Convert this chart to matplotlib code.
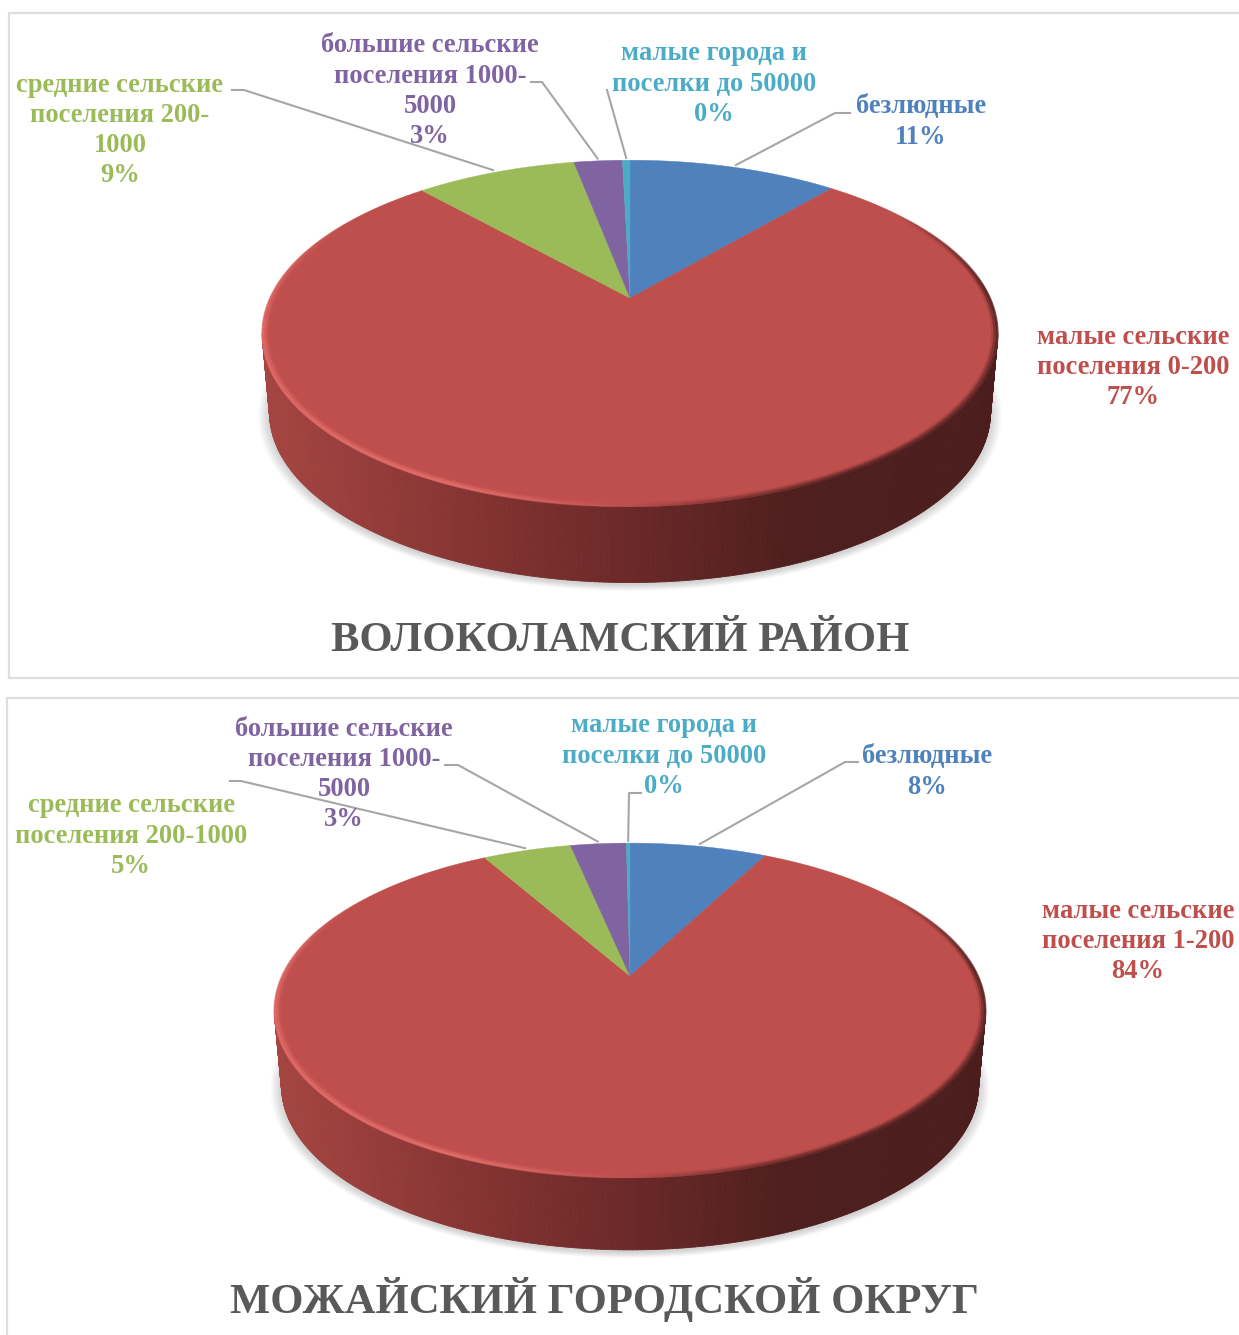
import numpy as np
import matplotlib
matplotlib.use('Agg')
import matplotlib.pyplot as plt
from matplotlib.collections import LineCollection, PolyCollection
from matplotlib.colors import LinearSegmentedColormap, to_rgb
from matplotlib.patches import Polygon

plt.rcParams['font.family'] = ['Liberation Serif', 'DejaVu Serif']

# Порядок секторов: по часовой стрелке от 12 часов
colors = ['#4F81BD', '#BE4F4C', '#9BBB59', '#8064A2', '#4BACC6']

volok_title = 'ВОЛОКОЛАМСКИЙ РАЙОН'
volok_values = [11.2, 77.2, 8.6, 2.6, 0.4]
volok_shown = ['11%', '77%', '9%', '3%', '0%']
volok_names = [
    ['безлюдные'],
    ['малые сельские', 'поселения 0-200'],
    ['средние сельские', 'поселения 200-', '1000'],
    ['большие сельские', 'поселения 1000-', '5000'],
    ['малые города и', 'поселки до 50000'],
]

mozh_title = 'МОЖАЙСКИЙ ГОРОДСКОЙ ОКРУГ'
mozh_values = [7.6, 84.2, 4.9, 3.1, 0.2]
mozh_shown = ['8%', '84%', '5%', '3%', '0%']
mozh_names = [
    ['безлюдные'],
    ['малые сельские', 'поселения 1-200'],
    ['средние сельские', 'поселения 200-1000'],
    ['большие сельские', 'поселения 1000-', '5000'],
    ['малые города и', 'поселки до 50000'],
]

side_cmap = LinearSegmentedColormap.from_list('side', [
    (0.0, '#A54541'), (0.33, '#7F3130'), (0.5, '#6B2928'),
    (0.72, '#4E1F1E'), (1.0, '#4B1E1D')])


def project(theta, cx, cy, rx, ry, k, r=1.0):
    """Окружность диска в перспективе, theta от верха по часовой."""
    u = r * np.sin(theta)
    v = r * np.cos(theta)
    d = 1 + k * v
    return cx + rx * u / d, cy - ry * v / d


def draw_pie(ax, values, geom):
    cx, cy, rx, ry, k, depth, shrink = geom
    fr = np.array(values) / np.sum(values)
    edges = np.concatenate([[0], np.cumsum(fr)]) * 2 * np.pi

    # нижняя кромка и тень под ней
    t = np.linspace(0, 2 * np.pi, 400)
    for i in range(12):
        s = shrink + 0.0028 * i
        xb, yb = project(t, cx, cy, rx * s, ry * s, k)
        ax.fill(xb, yb + depth + 2, color='#707070', alpha=0.028, lw=0, zorder=1)

    # боковая стенка из вертикальных полосок
    t0 = np.arccos(-k)
    t_side = np.linspace(t0, 2 * np.pi - t0, 260)
    xt, yt = project(t_side, cx, cy, rx, ry, k)
    xb, yb = project(t_side, cx, cy, rx * shrink, ry * shrink, k)
    yb = yb + depth
    quads = [[(xt[i], yt[i]), (xt[i + 1], yt[i + 1]), (xb[i + 1], yb[i + 1]), (xb[i], yb[i])]
             for i in range(len(t_side) - 1)]
    xm = (xt[:-1] + xt[1:]) / 2
    face = side_cmap((xm - xm.min()) / (xm.max() - xm.min()))
    ax.add_collection(PolyCollection(quads, facecolors=face, edgecolors=face, linewidths=0.6, zorder=2))

    # верхняя грань
    for i, c in enumerate(colors):
        a = np.linspace(edges[i], edges[i + 1], 160)
        x, y = project(a, cx, cy, rx, ry, k)
        ax.add_patch(Polygon(np.column_stack([np.r_[cx, x], np.r_[cy, y]]), closed=True,
                             facecolor=c, edgecolor=c, lw=0.3, zorder=3))

    # фаска по краю диска: светлая слева снизу, темная справа
    t = np.linspace(0, 2 * np.pi, 500)
    light = np.array(to_rgb('#E8706D'))
    dark = np.array(to_rgb('#4B1E1D'))
    for r, lw, amp in [(0.9985, 2.0, 0.75), (0.993, 2.5, 0.5), (0.987, 2.5, 0.18)]:
        x, y = project(t, cx, cy, rx, ry, k, r=r)
        pts = np.column_stack([x, y])
        segs = np.stack([pts[:-1], pts[1:]], axis=1)
        tm = (t[:-1] + t[1:]) / 2
        u, v = np.sin(tm), np.cos(tm)
        hl = np.clip(-u * 2.5, 0, 1) * np.clip((0.5 - v) * 1.5, 0, 1)
        dk = np.clip(u * 2, 0, 1) * np.clip((0.55 - v) * 2, 0, 1)
        rgba = np.zeros((len(segs), 4))
        rgba[:, :3] = np.where((hl >= dk)[:, None], light, dark)
        rgba[:, 3] = np.maximum(hl, dk) * amp
        ax.add_collection(LineCollection(segs, colors=rgba, linewidths=lw, zorder=4))

    return edges


def draw_leader(ax, edges, i, geom, elbow):
    cx, cy, rx, ry, k = geom[:5]
    mid = (edges[i] + edges[i + 1]) / 2
    ex, ey = project(mid, cx, cy, rx, ry, k, r=1.02)
    ax.plot([p[0] for p in elbow] + [ex], [p[1] for p in elbow] + [ey],
            color='#A6A6A6', lw=1.5, solid_joinstyle='round', zorder=6)


def draw_label(ax, lines, x, y0, c, step=30.2):
    for n, line in enumerate(lines):
        ax.text(x, y0 + 2 + n * step, line, color=c, fontsize=19.1, fontweight='bold',
                ha='center', va='center', zorder=7)


fig = plt.figure(figsize=(12.39, 13.35), dpi=100)
ax = fig.add_axes([0, 0, 1, 1])
ax.set_xlim(0, 1239)
ax.set_ylim(1335, 0)
ax.axis('off')

# рамки диаграмм
ax.plot([1240, 9, 9, 1240], [13, 13, 678, 678], color='#DEDEDE', lw=1.6, zorder=0)
ax.plot([7, 7, 1240], [1336, 698, 698], color='#DEDEDE', lw=1.6, zorder=0)

# Волоколамский район
geom1 = (630, 298, 360, 166, 0.2047, 80, 0.98)
edges1 = draw_pie(ax, volok_values, geom1)
leaders1 = [
    [(850, 113), (835, 113)],
    None,
    [(232, 90), (244, 90)],
    [(531, 82), (542, 82)],
    [(607, 90)],
]
label_pos1 = [(921, 105), (1133, 335), (120, 83), (430, 44), (714, 52)]
for i in range(5):
    if leaders1[i]:
        draw_leader(ax, edges1, i, geom1, leaders1[i])
    draw_label(ax, volok_names[i] + [volok_shown[i]], label_pos1[i][0], label_pos1[i][1], colors[i])
ax.text(620, 641, volok_title, color='#595959', fontsize=30.7, fontweight='bold',
        ha='center', va='center', zorder=7)

# Можайский городской округ
geom2 = (630, 976, 348, 160.3, 0.2061, 76, 0.98)
edges2 = draw_pie(ax, mozh_values, geom2)
leaders2 = [
    [(858, 762), (845, 762)],
    None,
    [(230, 781), (241, 781)],
    [(445, 765), (458, 765)],
    [(641, 793), (629, 793)],
]
label_pos2 = [(927, 755), (1138, 909), (131, 804), (344, 727), (664, 724)]
for i in range(5):
    if leaders2[i]:
        draw_leader(ax, edges2, i, geom2, leaders2[i])
    draw_label(ax, mozh_names[i] + [mozh_shown[i]], label_pos2[i][0], label_pos2[i][1], colors[i])
ax.text(604, 1299, mozh_title, color='#595959', fontsize=30.7, fontweight='bold',
        ha='center', va='center', zorder=7)

fig.savefig('out.png', dpi=100, facecolor='white')
